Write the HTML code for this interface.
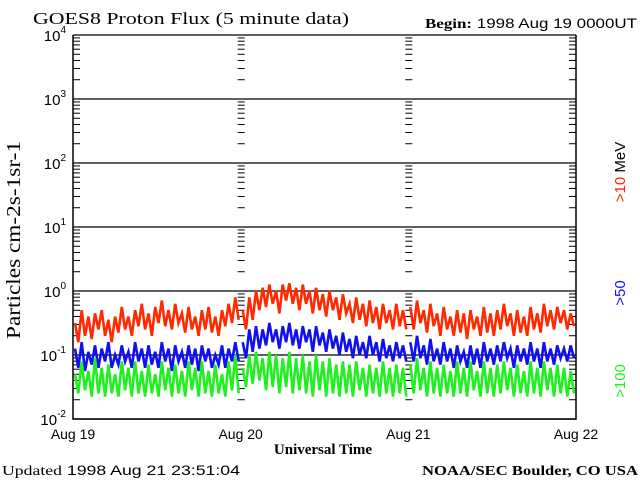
<!DOCTYPE html>
<html><head><meta charset="utf-8"><style>
body{margin:0;background:#fff;}
svg{display:block;}
.s{font-family:"Liberation Serif",serif;}
.a{font-family:"Liberation Sans",sans-serif;}
</style></head><body>
<svg id="chart" width="640" height="480" viewBox="0 0 640 480">
<text class="s" x="33" y="24" font-size="17" textLength="316" lengthAdjust="spacingAndGlyphs">GOES8 Proton Flux (5 minute data)</text>
<text x="425" y="28" font-size="14" textLength="212" lengthAdjust="spacingAndGlyphs"><tspan class="s" font-weight="bold">Begin:</tspan><tspan class="a" font-size="14"> 1998 Aug 19 0000UT</tspan></text>
<text class="s" transform="translate(20,240) rotate(-90)" text-anchor="middle" font-size="20" textLength="198" lengthAdjust="spacingAndGlyphs">Particles cm-2s-1sr-1</text>
<text class="a" transform="translate(625,172) rotate(-90)" text-anchor="middle" font-size="15"><tspan fill="#ff2000">&gt;10</tspan><tspan fill="#000">  MeV</tspan></text>
<text class="a" transform="translate(625,293) rotate(-90)" text-anchor="middle" font-size="15" fill="#1010ff">&gt;50</text>
<text class="a" transform="translate(625,381) rotate(-90)" text-anchor="middle" font-size="15" fill="#20f020">&gt;100</text>
<text class="s" x="323" y="454" text-anchor="middle" font-size="15" font-weight="bold">Universal Time</text>
<text x="2" y="475" font-size="14" textLength="238" lengthAdjust="spacingAndGlyphs"><tspan class="s">Updated</tspan><tspan class="a"> 1998 Aug 21 23:51:04</tspan></text>
<text class="s" x="638" y="475" text-anchor="end" font-size="14" font-weight="bold" textLength="216" lengthAdjust="spacingAndGlyphs">NOAA/SEC Boulder, CO USA</text>
<g id="axes"></g>
<g id="series"></g>
</svg>
<script>
const xLabels=["Aug 19","Aug 20","Aug 21","Aug 22"];
const yExps=[-2,-1,0,1,2,3,4];
const red=[-0.5,-0.8,-0.3,-0.7,-0.4,-0.75,-0.35,-0.6,-0.3,-0.7,-0.45,-0.8,-0.4,-0.65,-0.25,-0.6,-0.4,-0.7,-0.3,-0.55,-0.2,-0.6,-0.35,-0.7,-0.25,-0.5,-0.15,-0.55,-0.3,-0.6,-0.2,-0.5,-0.35,-0.65,-0.25,-0.6,-0.4,-0.7,-0.3,-0.6,-0.25,-0.65,-0.4,-0.7,-0.3,-0.55,-0.2,-0.5,-0.1,-0.45,
-0.3,-0.6,-0.1,-0.45,0.0,-0.3,0.05,-0.25,0.1,-0.2,0.0,-0.35,0.1,-0.15,0.12,-0.2,0.05,-0.3,0.1,-0.2,0.0,-0.35,0.05,-0.3,-0.05,-0.4,0.0,-0.3,-0.1,-0.45,-0.05,-0.35,-0.2,-0.5,-0.1,-0.45,-0.2,-0.55,-0.15,-0.5,-0.25,-0.6,-0.2,-0.5,-0.3,-0.6,-0.2,-0.55,-0.3,-0.6,
-0.25,-0.6,-0.15,-0.5,-0.3,-0.65,-0.2,-0.55,-0.35,-0.7,-0.25,-0.6,-0.4,-0.7,-0.3,-0.65,-0.35,-0.75,-0.3,-0.6,-0.4,-0.7,-0.25,-0.65,-0.35,-0.7,-0.3,-0.6,-0.2,-0.55,-0.35,-0.7,-0.3,-0.65,-0.4,-0.7,-0.25,-0.6,-0.35,-0.65,-0.2,-0.55,-0.3,-0.6,-0.25,-0.5,-0.3,-0.6,-0.35,-0.55];
const blue=[-0.9,-1.2,-0.8,-1.25,-0.95,-1.15,-0.85,-1.2,-0.9,-1.1,-0.8,-1.2,-1.0,-1.15,-0.85,-1.1,-0.95,-1.2,-0.8,-1.1,-0.9,-1.2,-0.85,-1.15,-0.95,-1.2,-0.8,-1.1,-0.9,-1.25,-0.85,-1.1,-0.95,-1.2,-0.85,-1.15,-0.9,-1.25,-0.85,-1.1,-0.9,-1.2,-1.0,-1.15,-0.85,-1.2,-0.9,-1.1,-0.8,-1.1,
-0.8,-1.05,-0.6,-0.95,-0.55,-0.9,-0.6,-0.85,-0.5,-0.8,-0.6,-0.9,-0.55,-0.8,-0.5,-0.85,-0.6,-0.9,-0.55,-0.8,-0.6,-0.95,-0.55,-0.85,-0.65,-0.95,-0.6,-0.9,-0.7,-1.0,-0.65,-0.95,-0.75,-1.05,-0.7,-1.0,-0.8,-1.05,-0.7,-1.0,-0.8,-1.1,-0.75,-1.05,-0.85,-1.1,-0.8,-1.05,-0.85,-1.1,
-0.8,-1.1,-0.7,-1.05,-0.85,-1.15,-0.75,-1.1,-0.9,-1.15,-0.8,-1.1,-0.9,-1.2,-0.85,-1.1,-0.95,-1.2,-0.85,-1.15,-0.9,-1.2,-0.8,-1.1,-0.9,-1.15,-0.85,-1.1,-0.8,-1.05,-0.9,-1.2,-0.85,-1.1,-0.9,-1.15,-0.8,-1.1,-0.9,-1.2,-0.8,-1.1,-0.9,-1.15,-0.85,-1.05,-0.9,-1.1,-0.85,-1.05];
const green=[-1.3,-1.6,-1.1,-1.55,-1.25,-1.65,-1.05,-1.6,-1.2,-1.65,-1.15,-1.6,-1.3,-1.65,-1.1,-1.55,-1.2,-1.65,-1.1,-1.6,-1.25,-1.65,-1.15,-1.6,-1.3,-1.65,-1.1,-1.55,-1.2,-1.65,-1.15,-1.6,-1.25,-1.65,-1.1,-1.55,-1.2,-1.65,-1.1,-1.6,-1.25,-1.65,-1.15,-1.6,-1.3,-1.65,-1.1,-1.55,-1.0,-1.6,
-1.2,-1.5,-1.0,-1.45,-0.95,-1.4,-1.05,-1.55,-0.95,-1.5,-1.0,-1.6,-1.05,-1.5,-0.95,-1.6,-1.05,-1.55,-1.0,-1.6,-1.1,-1.65,-1.0,-1.55,-1.1,-1.65,-1.05,-1.6,-1.15,-1.65,-1.1,-1.6,-1.15,-1.65,-1.1,-1.55,-1.2,-1.65,-1.15,-1.6,-1.2,-1.65,-1.1,-1.6,-1.2,-1.65,-1.15,-1.6,-1.2,-1.65,
-1.15,-1.6,-1.05,-1.55,-1.2,-1.65,-1.1,-1.6,-1.2,-1.65,-1.15,-1.6,-1.25,-1.65,-1.1,-1.6,-1.2,-1.65,-1.1,-1.55,-1.25,-1.65,-1.1,-1.6,-1.2,-1.65,-1.15,-1.6,-1.1,-1.55,-1.2,-1.65,-1.15,-1.6,-1.25,-1.65,-1.1,-1.6,-1.2,-1.65,-1.1,-1.55,-1.2,-1.65,-1.15,-1.6,-1.2,-1.65,-1.25,-1.6];
const X0=73,X1=576,Y0=419,DEC=64,DAYW=(X1-X0)/3;
function yOf(lg){return Y0-(lg+2)*DEC;}
function xOf(day){return X0+day*DAYW;}
const NS="http://www.w3.org/2000/svg";
const axes=document.getElementById('axes'),ser=document.getElementById('series');
function mk(tag,at,parent){const e=document.createElementNS(NS,tag);for(const k in at)e.setAttribute(k,at[k]);parent.appendChild(e);return e;}
yExps.forEach(function(ex){
  const y=yOf(ex);
  const g=mk('line',{x1:X0,x2:X1,y1:y,y2:y,stroke:'#000','stroke-width':1.2},axes);
  
  
  const t=mk('text',{x:66,y:y+6,'text-anchor':'end','font-family':'Liberation Sans, sans-serif','font-size':15},axes);
  
  
  t.textContent='10';
  const sup=mk('tspan',{dy:-8,'font-size':10},t);sup.textContent=String(ex);
  if(ex<4){
    for(let m=2;m<=9;m++){
      const ym=y-Math.log10(m)*DEC;
      [[X0,X0+7],[X1-7,X1],[xOf(1)-3,xOf(1)+4],[xOf(2)-3,xOf(2)+4]].forEach(function(p){
        const tk=mk('line',{x1:p[0],x2:p[1],y1:ym,y2:ym,stroke:'#000','stroke-width':1},axes);
        
        
      });
    }
  }
});
const fr=mk('path',{d:'M'+X0+' '+yOf(4)+'V'+Y0+'H'+X1+'V'+yOf(4),fill:'none',stroke:'#000','stroke-width':1.5},axes);


xLabels.forEach(function(l,i){
  const t=mk('text',{x:xOf(i),y:439,'text-anchor':'middle','font-family':'Liberation Sans, sans-serif','font-size':14},axes);
  
  
  t.textContent=l;
});
function draw(arr,color,name){
  const per=arr.length/3;
  for(let d=0;d<3;d++){
    const pts=[];
    for(let i=0;i<per;i++){
      const x=xOf(d)+2+(i/(per-1))*(DAYW-4);
      pts.push(x.toFixed(1)+','+yOf(arr[d*per+i]).toFixed(1));
    }
    const p=mk('polyline',{points:pts.join(' '),fill:'none',stroke:color,'stroke-width':2.6,'stroke-linejoin':'miter'},ser);
    
    
  }
}
draw(red,'#ff2a00','series-10mev');
draw(blue,'#1010f0','series-50mev');
draw(green,'#20f020','series-100mev');
</script>
</body></html>
